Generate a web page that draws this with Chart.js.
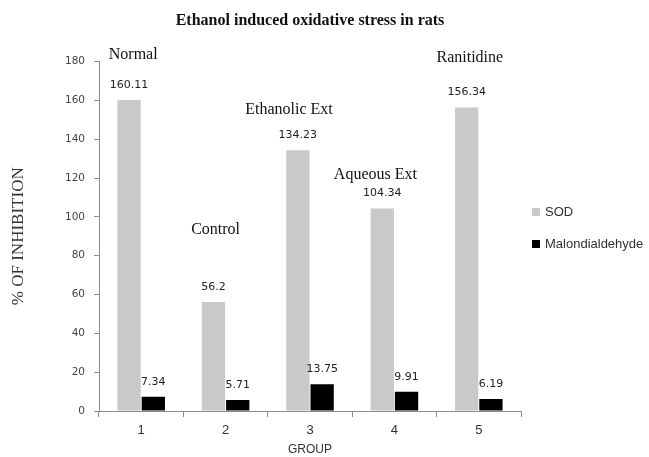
<!DOCTYPE html>
<html>
<head>
<meta charset="utf-8">
<title>Ethanol induced oxidative stress in rats</title>
<script src="https://cdn.jsdelivr.net/npm/chart.js@4/dist/chart.umd.min.js"></script>
<style>
  html, body { margin: 0; padding: 0; background: #ffffff; }
  #wrap { width: 649px; height: 457px; }
</style>
</head>
<body>
<div id="wrap"><canvas id="chart" width="649" height="457"></canvas></div>
<script>
// Group numbers on the x axis and the treatment each group received
const groups = ['1', '2', '3', '4', '5'];
const groupNames = ['Normal', 'Control', 'Ethanolic Ext', 'Aqueous Ext', 'Ranitidine'];

// % of inhibition per group
const sodValues = [160.11, 56.2, 134.23, 104.34, 156.34];
const mdaValues = [7.34, 5.71, 13.75, 9.91, 6.19];

// Y axis range and step
const yMin = 0;
const yMax = 180;
const yStep = 20;

// Where each group name sits: shift from the group centre (px) and height in axis units
const calloutPlacement = [
  { dx: -8,  y: 183.3 },
  { dx: -10, y: 93.1 },
  { dx: -21, y: 155.0 },
  { dx: -19, y: 121.5 },
  { dx: -9,  y: 181.8 }
];

const SOD_COLOR = '#c9c9c9';
const MDA_COLOR = '#000000';
const AXIS_COLOR = '#8c8c8c';

// Value labels, group names and the side legend
const overlayPlugin = {
  id: 'overlay',
  afterDatasetsDraw(chart) {
    const ctx = chart.ctx;
    const xScale = chart.scales.x;
    const yScale = chart.scales.y;
    ctx.save();

    // numbers above the bars
    ctx.font = "11px 'DejaVu Sans'";
    ctx.fillStyle = '#222222';
    ctx.textAlign = 'center';
    ctx.textBaseline = 'middle';
    chart.data.datasets.forEach((ds, di) => {
      const meta = chart.getDatasetMeta(di);
      meta.data.forEach((bar, i) => {
        ctx.fillText(String(ds.data[i]), bar.x, bar.y - 15);
      });
    });

    // treatment names
    ctx.font = "16px 'Liberation Serif'";
    ctx.fillStyle = '#111111';
    groupNames.forEach((name, i) => {
      const p = calloutPlacement[i];
      const x = xScale.getPixelForValue(i) + p.dx;
      const y = yScale.getPixelForValue(p.y);
      ctx.fillText(name, x, y);
    });

    // legend on the right
    const area = chart.chartArea;
    const lx = area.right + 11;
    let ly = area.top + 150.5;
    ctx.font = "13px 'Liberation Sans'";
    ctx.textAlign = 'left';
    chart.data.datasets.forEach((ds) => {
      ctx.fillStyle = ds.backgroundColor;
      ctx.fillRect(lx, ly - 4, 8, 8);
      ctx.fillStyle = '#333333';
      ctx.fillText(ds.label, lx + 13, ly + 0.5);
      ly += 32;
    });

    ctx.restore();
  }
};

new Chart(document.getElementById('chart'), {
  type: 'bar',
  data: {
    labels: groups,
    datasets: [
      {
        label: 'SOD',
        data: sodValues,
        backgroundColor: SOD_COLOR,
        borderWidth: 0,
        categoryPercentage: 0.575,
        barPercentage: 0.96
      },
      {
        label: 'Malondialdehyde',
        data: mdaValues,
        backgroundColor: MDA_COLOR,
        borderWidth: 0,
        categoryPercentage: 0.575,
        barPercentage: 0.96
      }
    ]
  },
  options: {
    responsive: false,
    devicePixelRatio: 1,
    animation: false,
    layout: { padding: { left: 0, right: 128, top: 0, bottom: 0 } },
    scales: {
      x: {
        grid: {
          drawOnChartArea: false,
          drawTicks: true,
          tickLength: 6,
          color: AXIS_COLOR,
          offset: true
        },
        border: { color: AXIS_COLOR, width: 1 },
        ticks: {
          font: { family: "'Liberation Sans'", size: 13 },
          color: '#333333',
          padding: 6
        },
        title: {
          display: true,
          text: 'GROUP',
          font: { family: "'Liberation Sans'", size: 12 },
          color: '#333333',
          padding: { top: 0, bottom: 0 }
        },
        afterFit(scale) { scale.height = 46; }
      },
      y: {
        min: yMin,
        max: yMax,
        grid: {
          drawOnChartArea: false,
          drawTicks: true,
          tickLength: 5,
          color: AXIS_COLOR
        },
        border: { color: AXIS_COLOR, width: 1 },
        ticks: {
          stepSize: yStep,
          font: { family: "'DejaVu Sans'", size: 10.5 },
          color: '#444444',
          padding: 9
        },
        title: {
          display: true,
          text: '% OF INHIBITION',
          font: { family: "'Liberation Serif'", size: 17 },
          color: '#333333',
          padding: { top: 8, bottom: 0 }
        },
        afterFit(scale) { scale.width = 99; }
      }
    },
    plugins: {
      legend: { display: false },
      tooltip: { enabled: false },
      title: {
        display: true,
        text: 'Ethanol induced oxidative stress in rats',
        font: { family: "'Liberation Serif'", size: 16, weight: 'bold' },
        color: '#111111',
        fullSize: false,
        padding: { top: 11, bottom: 31.3 }
      }
    }
  },
  plugins: [overlayPlugin]
});
</script>
</body>
</html>
